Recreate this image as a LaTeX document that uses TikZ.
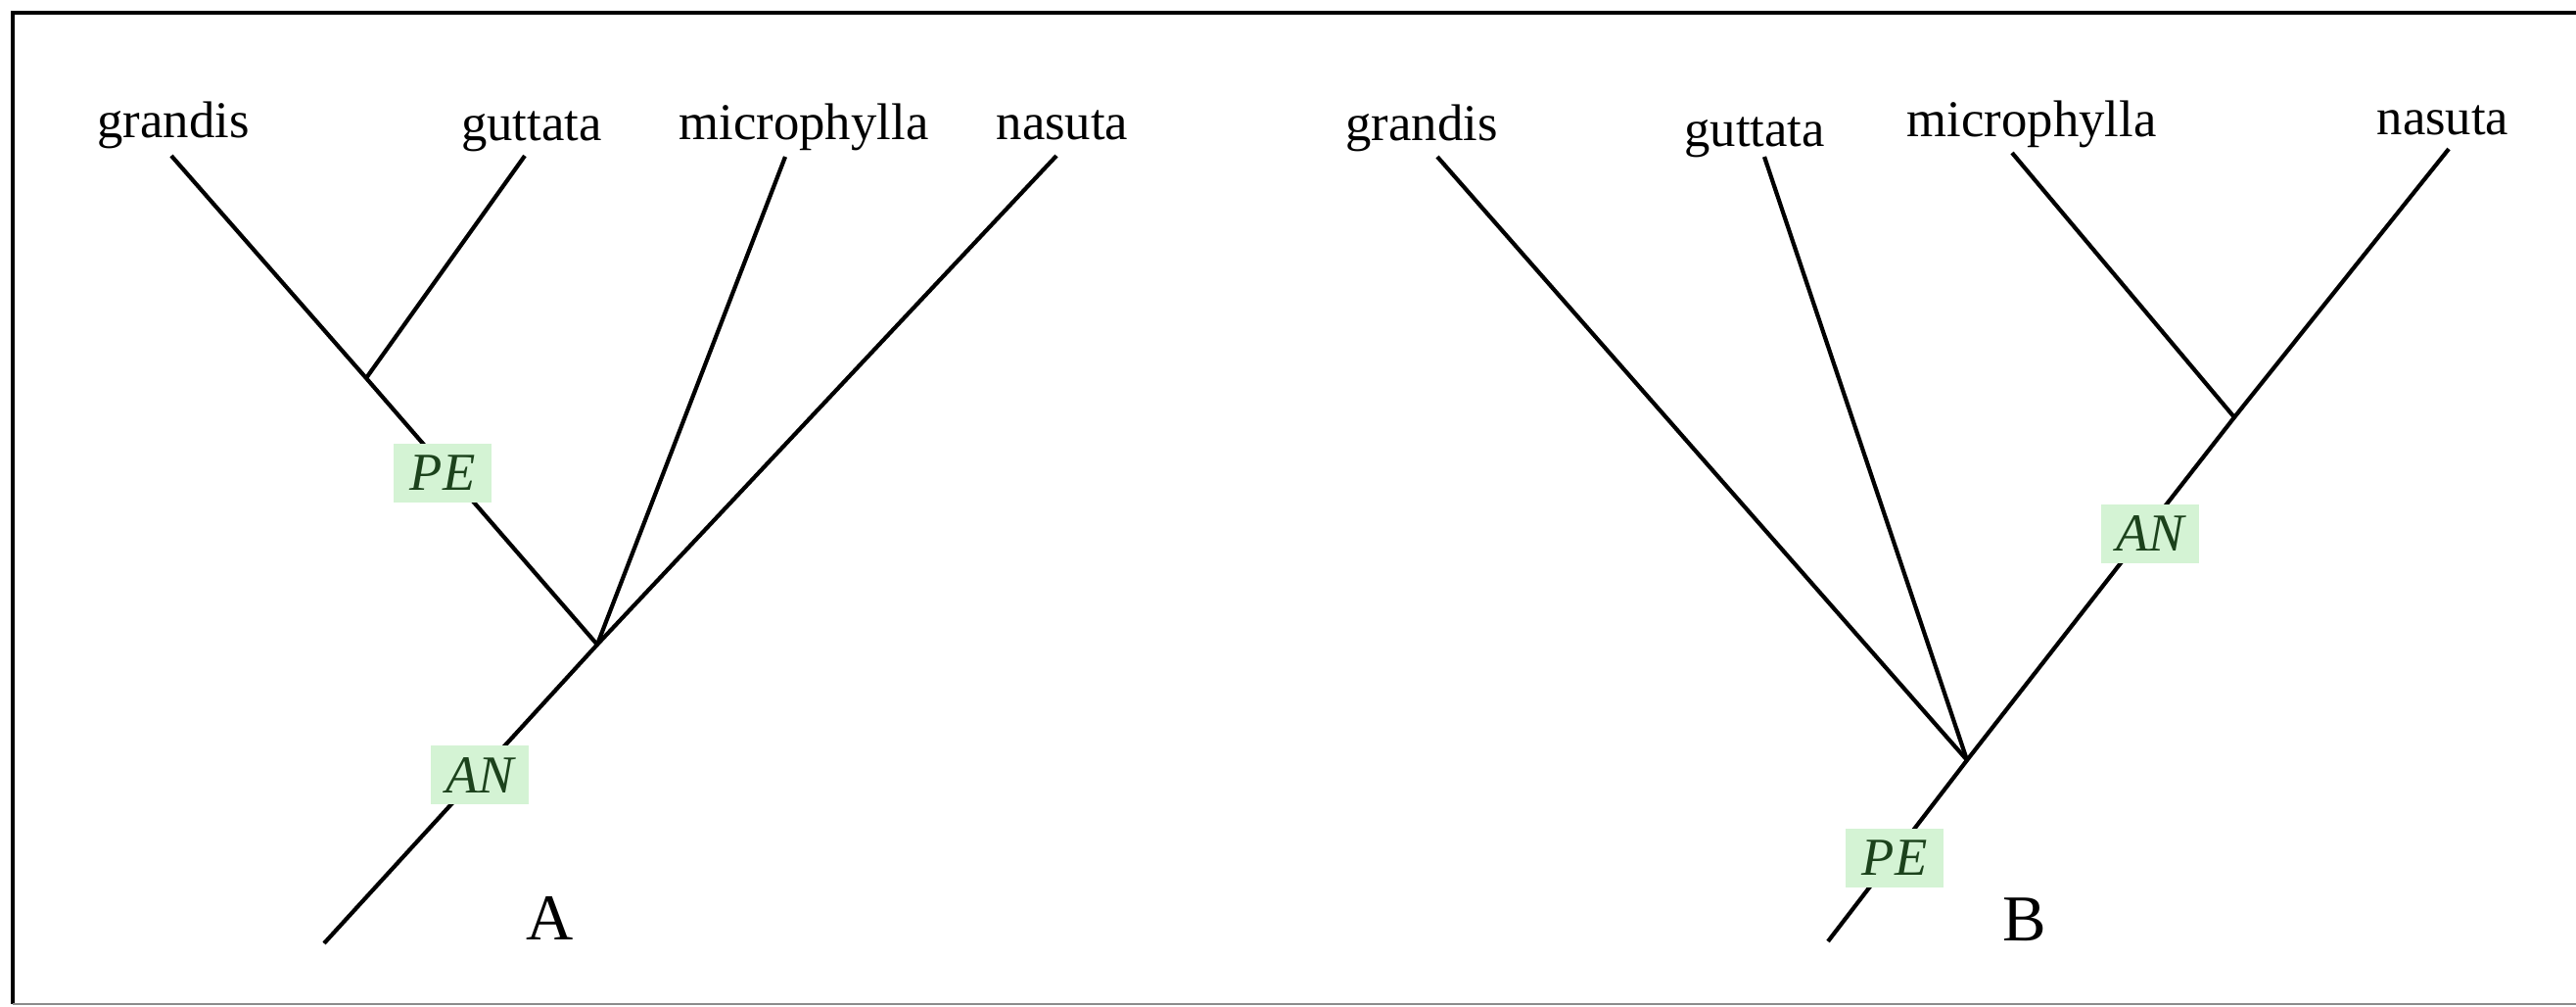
\documentclass[tikz,border=0pt]{standalone}
\usepackage{fontspec}
\setmainfont{Liberation Serif}
\definecolor{boxgreen}{RGB}{212,243,212}
\definecolor{textgreen}{RGB}{28,66,28}

\begin{document}
\begin{tikzpicture}[
	taxon/.style={anchor=base, inner sep=0pt, font=\fontsize{15}{18}\selectfont},
	event/.style={fill=boxgreen, text=textgreen, inner sep=1pt, minimum width=1.0cm, minimum height=0.6cm, font=\fontsize{15.5}{18}\selectfont\itshape},
	branch/.style={line width=1.2pt, color=black},
	panel/.style={anchor=base, inner sep=0pt, font=\fontsize{19}{22}\selectfont}]

		\useasboundingbox (0,0) rectangle (26.31,-10.27);
		\draw[line width=1.2pt] (0.13,-10.25) -- (0.13,-0.13) -- (26.31,-0.13);
		\draw[line width=0.6pt, color=black!45] (0.13,-10.25) -- (26.31,-10.25);

		\node[taxon](graA) at (1.77,-1.40){grandis};
		\node[taxon](gutA) at (5.43,-1.43){guttata};
		\node[taxon](micA) at (8.21,-1.42){microphylla};
		\node[taxon](nasA) at (10.85,-1.42){nasuta};

		\coordinate (tgraA) at (1.75,-1.59);
		\coordinate (tgutA) at (5.36,-1.59);
		\coordinate (tmicA) at (8.02,-1.60);
		\coordinate (tnasA) at (10.79,-1.59);
		\coordinate (jointA) at (3.74,-3.86);
		\coordinate (rootA) at (6.10,-6.58);
		\coordinate (baseA) at (3.31,-9.63);

		\draw[branch] (tgraA) -- (jointA) -- (rootA);
		\draw[branch] (tgutA) -- (jointA);
		\draw[branch] (tmicA) -- (rootA);
		\draw[branch] (tnasA) -- (rootA) -- (baseA);

		\node[event](peA) at (4.52,-4.83){PE};
		\node[event](anA) at (4.90,-7.91){AN};
		\node[panel](labA) at (5.62,-9.59){A};

		\node[taxon](graB) at (14.52,-1.43){grandis};
		\node[taxon](gutB) at (17.92,-1.49){guttata};
		\node[taxon](micB) at (20.75,-1.39){microphylla};
		\node[taxon](nasB) at (24.95,-1.37){nasuta};

		\coordinate (tgraB) at (14.68,-1.60);
		\coordinate (tgutB) at (18.02,-1.60);
		\coordinate (tmicB) at (20.55,-1.56);
		\coordinate (tnasB) at (25.01,-1.52);
		\coordinate (jointB) at (22.82,-4.26);
		\coordinate (rootB) at (20.09,-7.76);
		\coordinate (baseB) at (18.67,-9.61);

		\draw[branch] (tgraB) -- (rootB);
		\draw[branch] (tgutB) -- (rootB);
		\draw[branch] (tmicB) -- (jointB);
		\draw[branch] (tnasB) -- (jointB) -- (rootB) -- (baseB);

		\node[event](anB) at (21.96,-5.45){AN};
		\node[event](peB) at (19.35,-8.76){PE};
		\node[panel](labB) at (20.68,-9.60){B};

	\end{tikzpicture}
\end{document}
